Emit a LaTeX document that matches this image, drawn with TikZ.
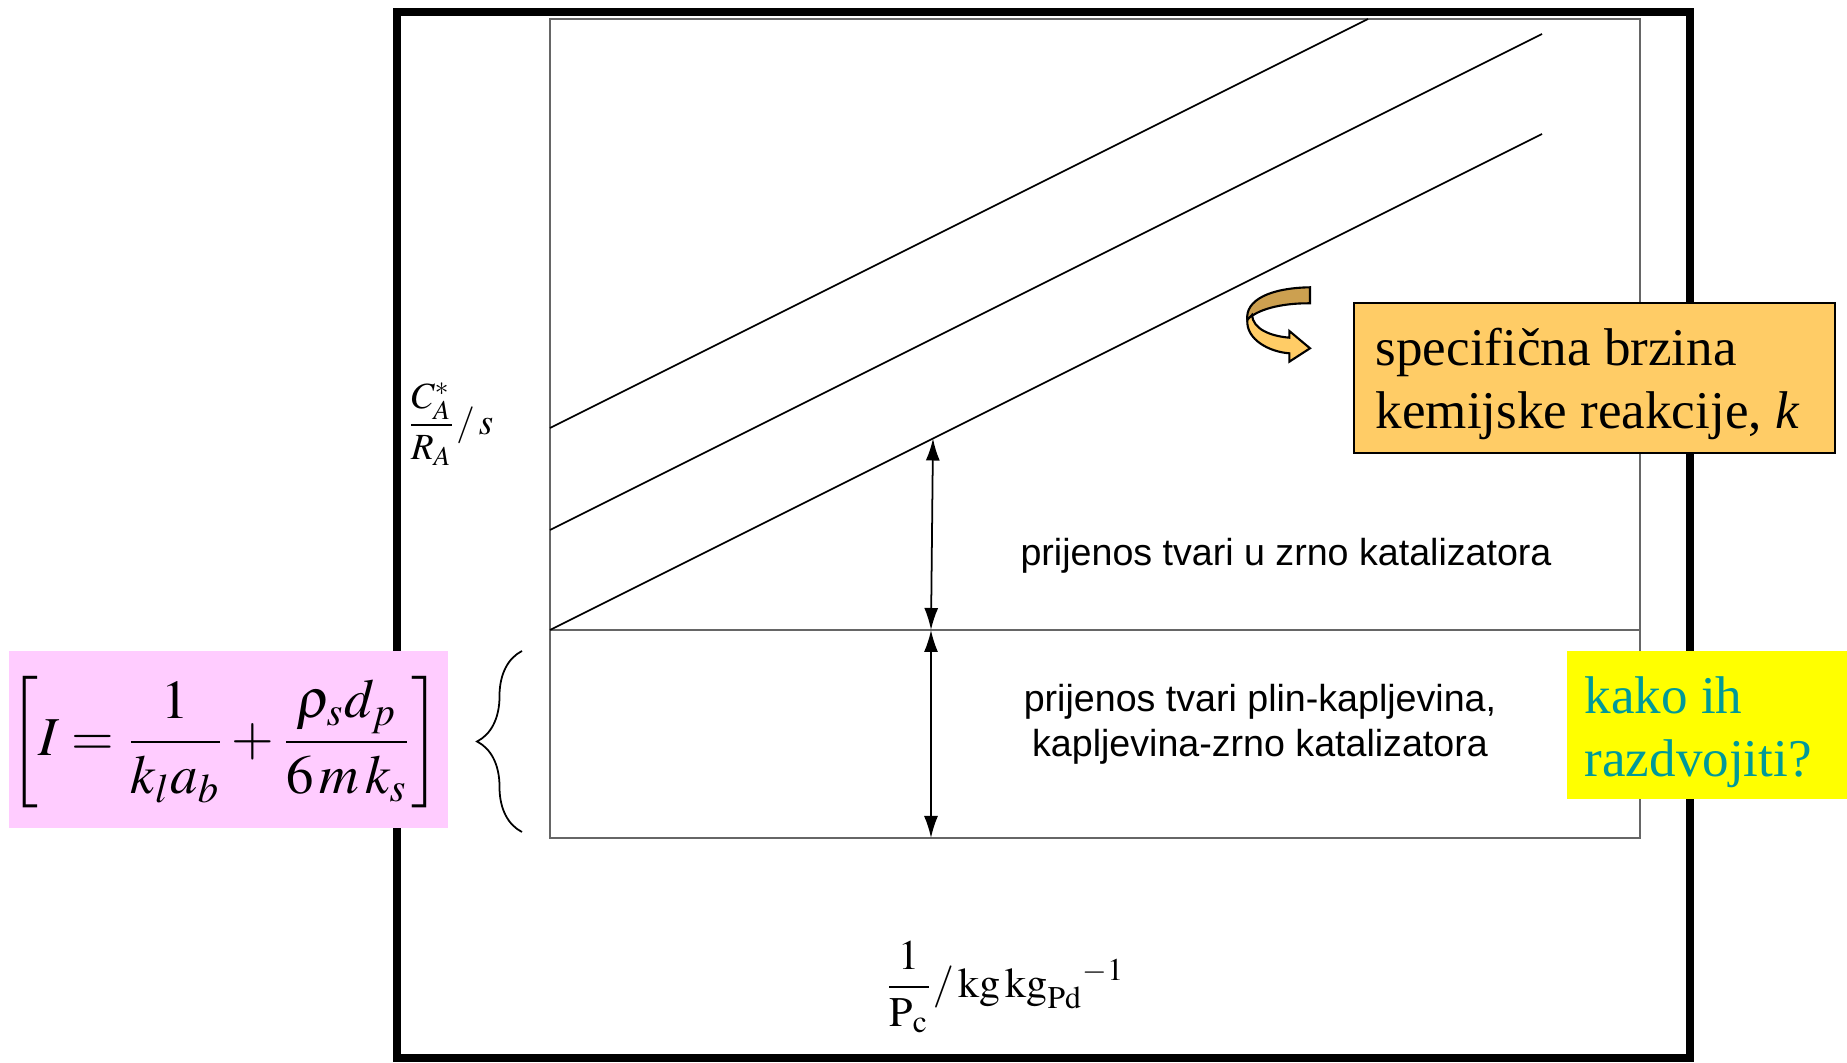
\documentclass[tikz,border=0pt]{standalone}
\usepackage{amsmath}
\usepackage{mathptmx}
\usepackage{fontspec}
\setmainfont{Liberation Serif}
\setsansfont{Liberation Sans}
\usetikzlibrary{arrows.meta,decorations.pathreplacing}
\definecolor{boxorange}{HTML}{FFCC66}
\definecolor{boxpink}{HTML}{FFCCFF}
\definecolor{boxyellow}{HTML}{FFFF00}
\definecolor{askteal}{HTML}{009999}
\definecolor{ribbondark}{HTML}{CCA050}

\begin{document}
\begin{tikzpicture}[
  dimarrow/.style={{Latex[length=2.2mm,width=1.4mm]}-{Latex[length=2.2mm,width=1.4mm]},line width=0.5pt},
  plotline/.style={line width=0.5pt},
  regionlabel/.style={font=\sffamily\fontsize{10.7}{12.8}\selectfont,align=center},
  bigtext/.style={font=\fontsize{15.1}{17.8}\selectfont,align=left,inner sep=0pt,anchor=west}]
\useasboundingbox (0,0) rectangle (18.47,10.62);
\draw[line width=2.3pt] (3.97,0.04) rectangle (16.90,10.50);
\draw[black!60,line width=0.5pt] (5.50,2.24) rectangle (16.40,10.43);
\coordinate (il) at (5.50,4.32);
\coordinate (ir) at (16.40,4.32);
\draw[black!60,line width=0.5pt] (il) -- (ir);
\coordinate (a1) at (5.50,6.34);
\coordinate (b1) at (13.68,10.43);
\coordinate (a2) at (5.50,5.32);
\coordinate (b2) at (15.42,10.28);
\coordinate (b3) at (15.42,9.28);
\draw[plotline] (a1) -- (b1);
\draw[plotline] (a2) -- (b2);
\draw[plotline] (il) -- (b3);
\coordinate (p3) at (9.33,6.235);
\coordinate (q) at (9.31,4.32);
\coordinate (r) at (9.31,2.24);
\draw[dimarrow] (p3) -- (q);
\draw[dimarrow] (q) -- (r);
\node[regionlabel] (pore) at (12.86,5.065) {prijenos tvari u zrno katalizatora};
\node[regionlabel] (film) at (12.60,3.38) {prijenos tvari plin-kapljevina,\\kapljevina-zrno katalizatora};
\node[font=\fontsize{10.5}{12}\selectfont] (ylab) at (4.50,6.38) {$\dfrac{C_A^*}{R_A}/\,s$};
\node[font=\fontsize{12}{14}\selectfont] (xlab) at (10.05,0.75) {$\dfrac{1}{\mathrm{P}_\mathrm{c}}/\,\mathrm{kg}\,{\mathrm{kg}_\mathrm{Pd}}^{-1}$};
\node[draw,line width=0.6pt,fill=boxorange,minimum width=4.81cm,minimum height=1.50cm] (rate) at (15.945,6.84) {};
\node[bigtext] (ratetext) at (13.75,6.78) {specifična brzina\\kemijske reakcije, \textit{k}};
\node[fill=boxyellow,minimum width=2.80cm,minimum height=1.48cm] (howto) at (17.07,3.37) {};
\node[bigtext,text=askteal] (howtotext) at (15.84,3.30) {kako ih\\razdvojiti?};
\node[fill=boxpink,minimum width=4.39cm,minimum height=1.77cm,inner sep=0pt] (formula) at (2.285,3.225) {};
\node[inner sep=0pt,font=\fontsize{15.6}{19}\selectfont] (formulatext) at (2.25,3.225)
  {$\left[\vphantom{\dfrac{\rho_s^2}{k_s}}I=\dfrac{1}{k_l a_b}+\dfrac{\rho_s d_p}{6\,m\,k_s}\right]$};
\draw[decorate,decoration={brace,amplitude=0.45cm},line width=0.5pt] (5.22,2.30) -- (5.22,4.11);
\filldraw[fill=ribbondark,line width=0.6pt] (13.10,7.747) .. controls (12.70,7.74) and (12.45,7.62) .. (12.473,7.42)
  .. controls (12.56,7.52) and (12.80,7.59) .. (13.10,7.587) -- cycle;
\filldraw[fill=boxorange,line width=0.6pt] (12.473,7.42) .. controls (12.46,7.22) and (12.70,7.10) .. (12.893,7.087)
  -- (12.893,7.003) -- (13.10,7.137) -- (12.893,7.31) -- (12.893,7.243)
  .. controls (12.70,7.26) and (12.53,7.33) .. (12.52,7.47) -- cycle;
\end{tikzpicture}
\end{document}
